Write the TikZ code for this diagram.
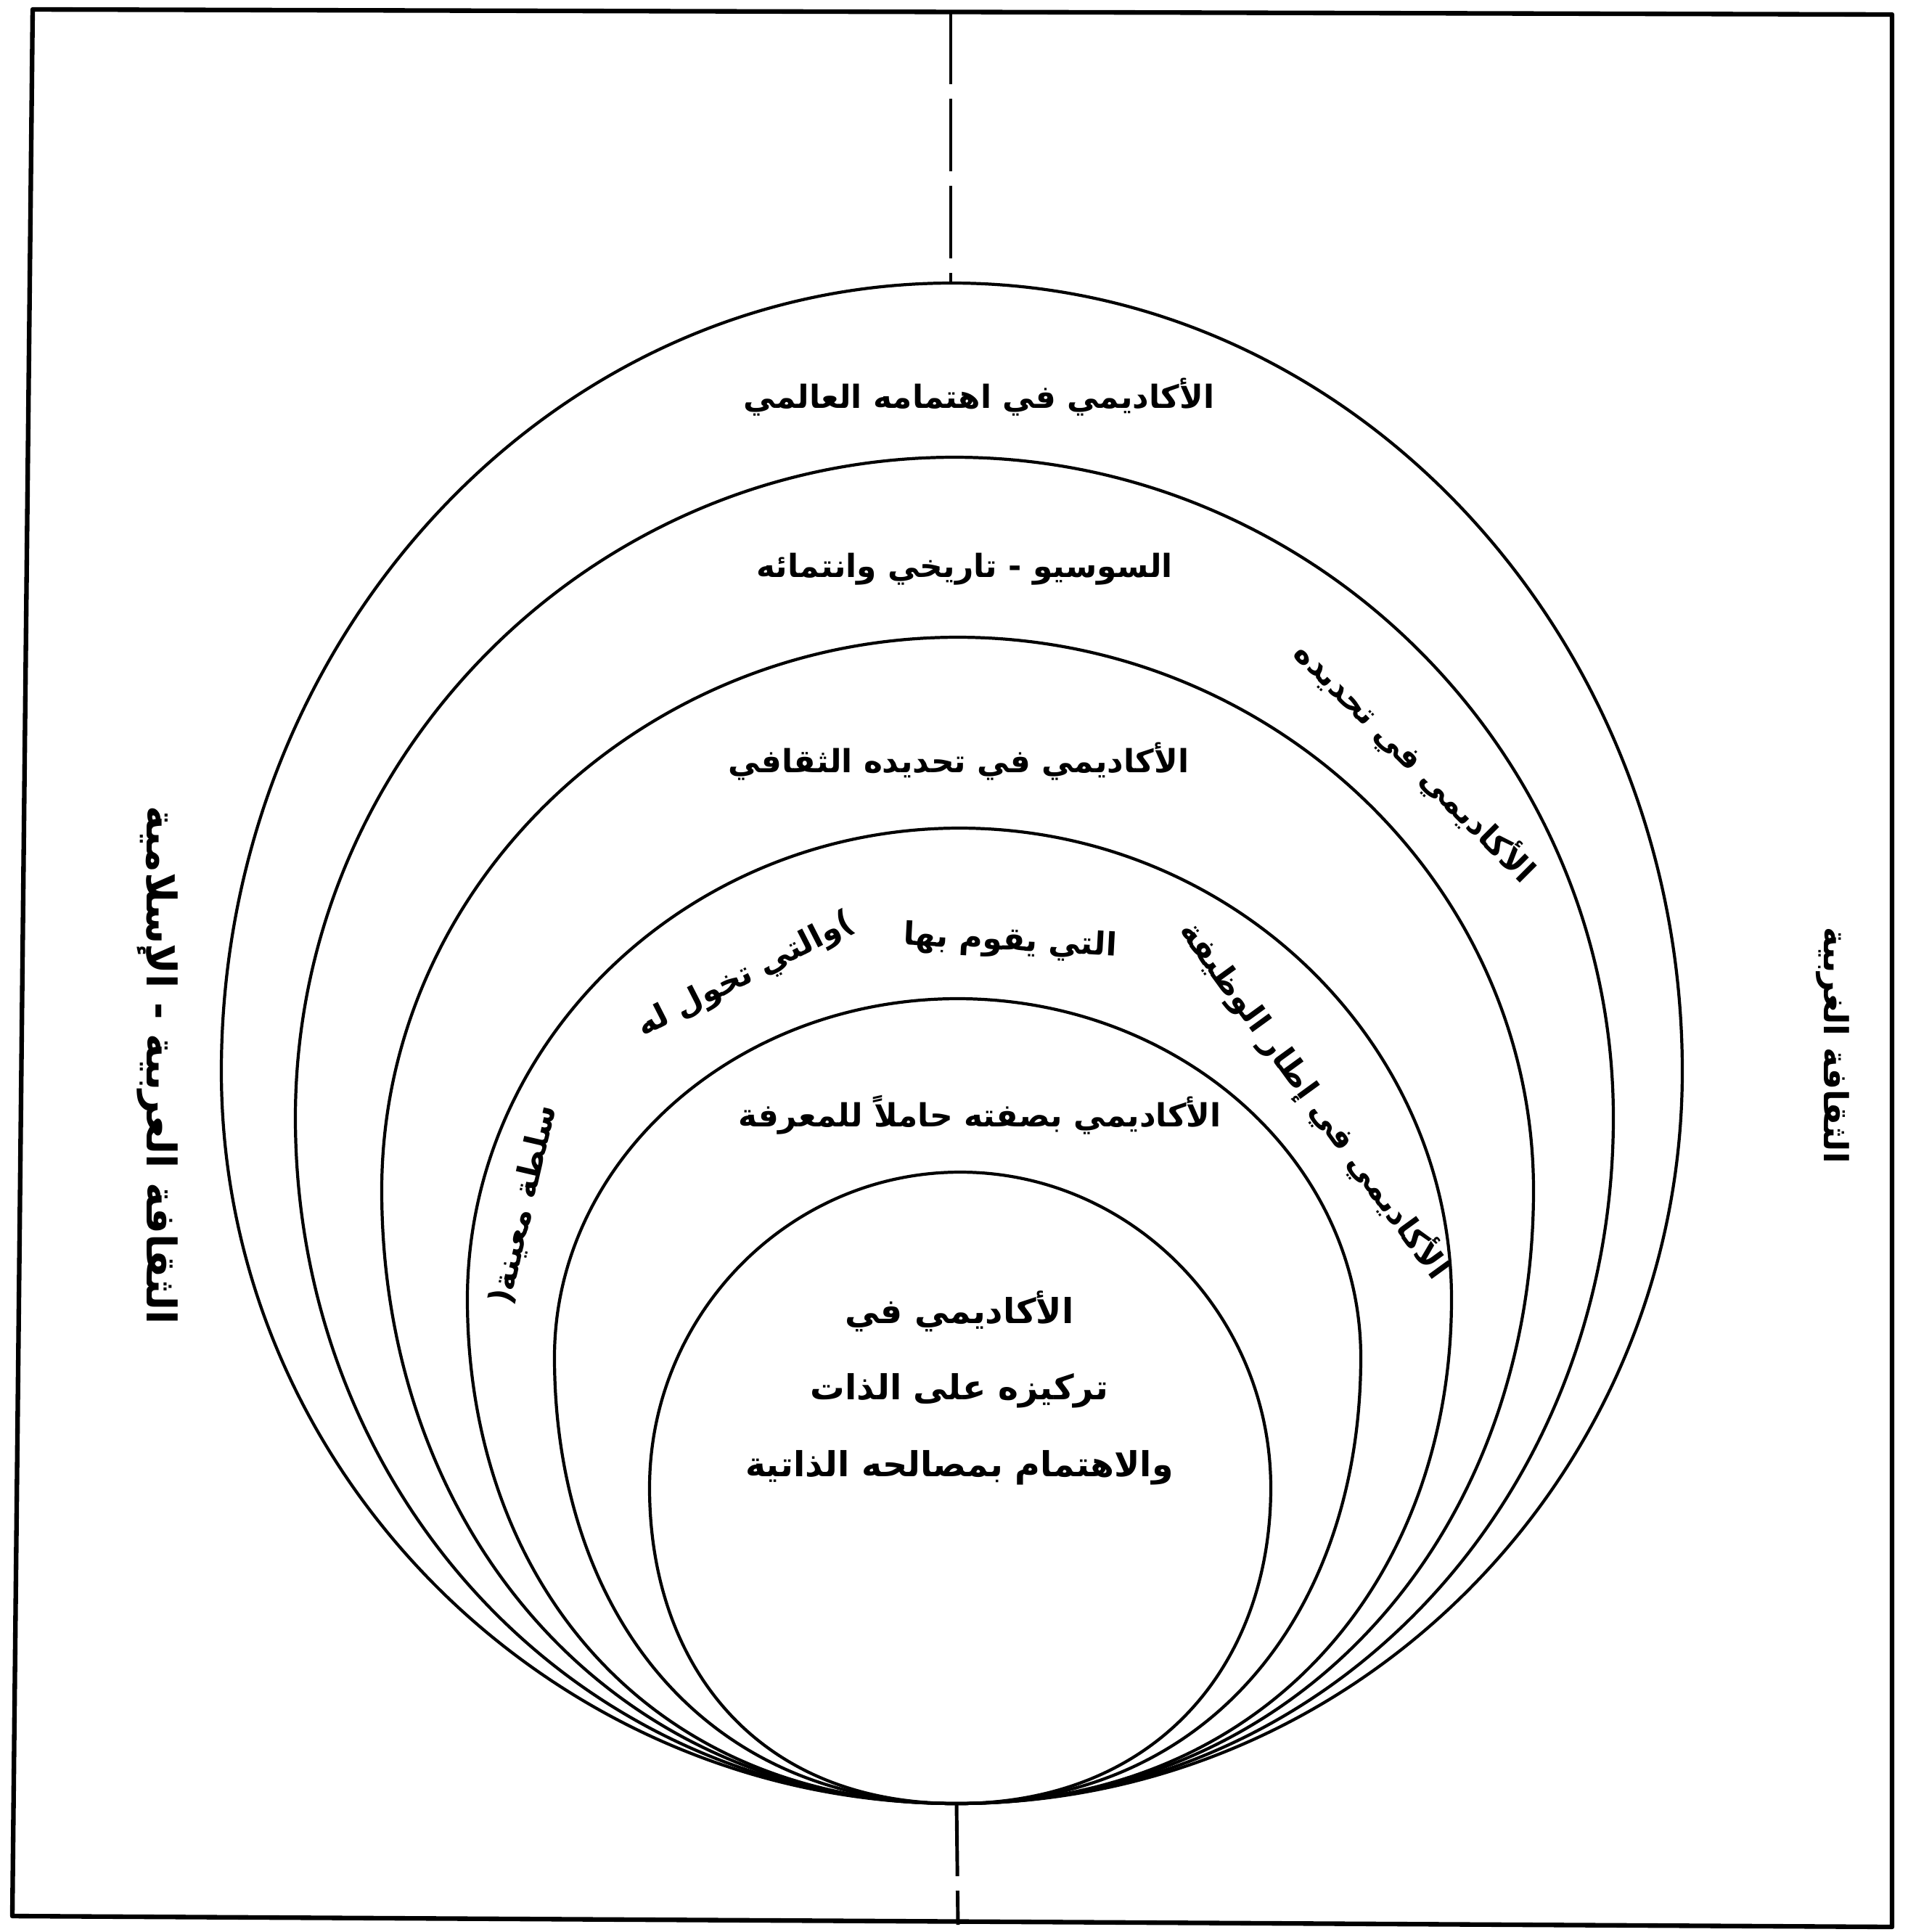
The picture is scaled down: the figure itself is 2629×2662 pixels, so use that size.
\documentclass[tikz,border=0pt]{standalone}
\usepackage{fontspec}
\usetikzlibrary{calc}
\newfontfamily\arabicfont[Script=Arabic]{DejaVu Sans}
\TeXXeTstate=1
\newcommand{\artext}[1]{\beginR #1\endR}

\begin{document}
\begin{tikzpicture}[
  x=0.01cm, y=-0.01cm,
  frame/.style={draw=black, line width=1.8pt, line join=round},
  ring/.style={draw=black, line width=1.2pt},
  axis/.style={draw=black, line width=1.4pt, dash pattern=on 1cm off 0.2cm},
  lbl/.style={font=\arabicfont\bfseries\fontsize{12.5}{16}\selectfont, inner sep=1pt, align=center},
  side/.style={lbl, rotate=-90},
]
\useasboundingbox (0,0) rectangle (2629,2662);

% ---------- Frame and axis ----------
\coordinate (tl) at (45,13);
\coordinate (tr) at (2607,20);
\coordinate (br) at (2607,2655);
\coordinate (bl) at (17,2640);
\draw[frame] (tl) -- (tr) -- (br) -- (bl) -- cycle;

\coordinate (bot)    at (1318,2485);
\coordinate (top1)   at (1310,390);
\coordinate (axtop)  at (1310,16);
\coordinate (axbot)  at (1320,2652);
\draw[axis] (axtop) -- (top1);
\draw[axis] (bot) -- (axbot);

% ---------- Nested loops, all touching at (bot) ----------
% #1 left x, #2 right x, #3 top y, #4 y of widest point, #5 bottom spread
\newcommand{\ringloop}[5]{%
  \pgfmathsetmacro{\rcx}{(#1+#2)/2}
  \pgfmathsetmacro{\rkt}{0.55*(#4-#3)}
  \pgfmathsetmacro{\rkb}{0.55*(2485-#4)}
  \pgfmathsetmacro{\rkl}{0.55*(\rcx-#1)}
  \pgfmathsetmacro{\rkr}{0.55*(#2-\rcx)}
  \draw[ring] (bot) .. controls ($(bot)+(-#5,0)$) and (#1,#4+\rkb) .. (#1,#4)
     .. controls (#1,#4-\rkt) and (\rcx-\rkl,#3) .. (\rcx,#3)
     .. controls (\rcx+\rkr,#3) and (#2,#4-\rkt) .. (#2,#4)
     .. controls (#2,#4+\rkb) and ($(bot)+(#5,0)$) .. (bot) -- cycle;
}
\ringloop{305}{2318}{390}{1476}{553}
\ringloop{407}{2223}{630}{1540}{520}
\ringloop{526}{2113}{878}{1640}{480}
\ringloop{644}{2000}{1141}{1790}{430}
\ringloop{764}{1875}{1376}{1870}{360}
\ringloop{895}{1751}{1615}{2050}{280}

% ---------- Labels ----------
\node[lbl] (t_world)   at (1349,547)  {\artext{الأكاديمي في اهتمامه العالمي}};
\node[lbl] (t_socio)   at (1329,784)  {\artext{السوسيو - تاريخي وانتمائه}};
\node[lbl, rotate=-45] (t_defarc) at (1950,1050) {\artext{الأكاديمي في تحديده}};
\node[lbl] (t_culture) at (1321,1049) {\artext{الأكاديمي في تحديده الثقافي}};

% role band, read along the arc
\node[lbl, rotate=-54] (t_role_a) at (1812,1515) {\artext{الأكاديمي في إطار الوظيفة}};
\node[lbl, rotate=-3]  (t_role_b) at (1392,1298) {\artext{التي يقوم بها}};
\node[lbl, rotate=27]  (t_role_c) at (1028,1344) {\artext{)والتي تخول له}};
\node[lbl, rotate=77]  (t_role_d) at (722,1660)  {\artext{سلطة معينة(}};

\node[lbl] (t_know) at (1350,1536) {\artext{الأكاديمي بصفته حاملاً للمعرفة}};
\node[lbl, font=\arabicfont\bfseries\fontsize{13.5}{17}\selectfont]
  (t_self) at (1322,1912) {\artext{الأكاديمي في}\\[13pt]\artext{تركيزه على الذات}\\[13pt]\artext{والاهتمام بمصالحه الذاتية}};

% side cultures
\node[side, font=\arabicfont\bfseries\fontsize{16}{20}\selectfont] (t_east) at (217,1468) {\artext{الثقافة العربية - الإسلامية}};
\node[side, font=\arabicfont\bfseries\fontsize{13}{16}\selectfont] (t_west) at (2525,1440) {\artext{الثقافة الغربية}};

\end{tikzpicture}
\end{document}
